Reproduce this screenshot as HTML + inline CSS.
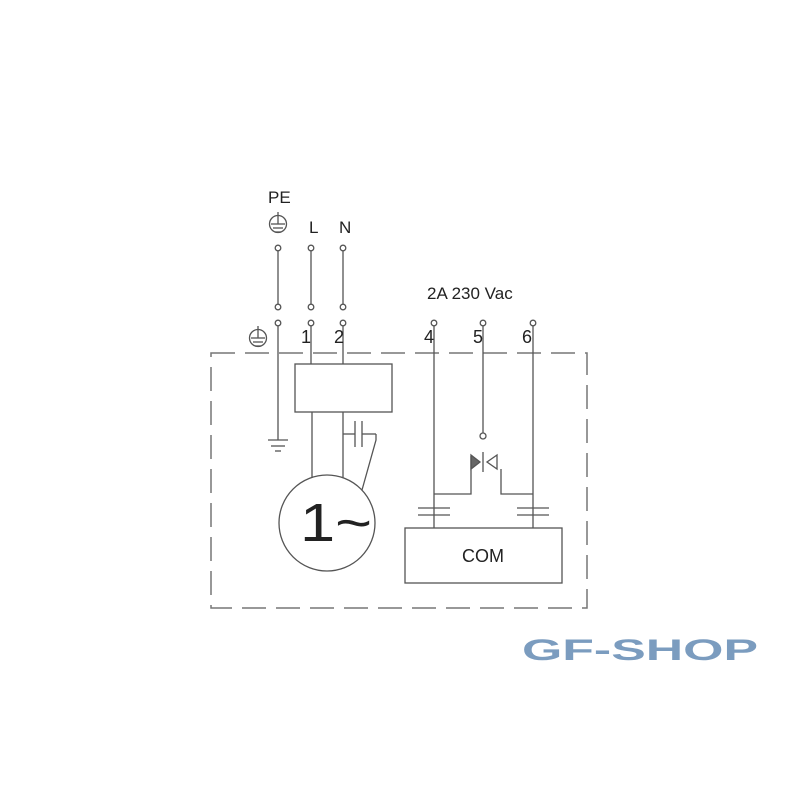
<!DOCTYPE html>
<html><head><style>
html,body{margin:0;padding:0;background:#fff;}
svg{display:block;}
text{font-family:"Liberation Sans",sans-serif;fill:#222;}
</style></head><body>
<svg width="800" height="800" viewBox="0 0 800 800" xmlns="http://www.w3.org/2000/svg">
<rect width="800" height="800" fill="#fff"/>
<g stroke="#555" stroke-width="1.3" fill="none">
<rect x="211" y="353" width="376" height="255" stroke="#777" stroke-width="1.5" stroke-dasharray="24,10"/>
<line x1="278" y1="251" x2="278" y2="304"/>
<line x1="311" y1="251" x2="311" y2="304"/>
<line x1="343" y1="251" x2="343" y2="304"/>
<circle cx="278" cy="248" r="2.8" fill="#fff"/>
<circle cx="311" cy="248" r="2.8" fill="#fff"/>
<circle cx="343" cy="248" r="2.8" fill="#fff"/>
<circle cx="278" cy="307" r="2.8" fill="#fff"/>
<circle cx="311" cy="307" r="2.8" fill="#fff"/>
<circle cx="343" cy="307" r="2.8" fill="#fff"/>
<circle cx="278" cy="323" r="2.8" fill="#fff"/>
<circle cx="311" cy="323" r="2.8" fill="#fff"/>
<circle cx="343" cy="323" r="2.8" fill="#fff"/>
<line x1="278" y1="326" x2="278" y2="440"/>
<line x1="268" y1="440" x2="288" y2="440"/>
<line x1="271" y1="446" x2="285" y2="446"/>
<line x1="275" y1="451" x2="281" y2="451"/>
<line x1="311" y1="326" x2="311" y2="364"/>
<line x1="343" y1="326" x2="343" y2="364"/>
<rect x="295" y="364" width="97" height="48"/>
<line x1="312" y1="412" x2="312" y2="478"/>
<line x1="343" y1="412" x2="343" y2="478"/>
<circle cx="327" cy="523" r="48"/>
<line x1="343" y1="434" x2="355" y2="434"/>
<line x1="355" y1="421" x2="355" y2="447"/>
<line x1="362" y1="421" x2="362" y2="447"/>
<line x1="362" y1="434" x2="376" y2="434"/>
<polyline points="376,434 376,440 362,490"/>
<circle cx="278" cy="224" r="8.5"/>
<line x1="278" y1="212" x2="278" y2="224"/>
<line x1="271" y1="224" x2="285" y2="224"/>
<line x1="273" y1="228" x2="283" y2="228"/>
<line x1="275" y1="232" x2="281" y2="232"/>
<circle cx="258" cy="338" r="8.5"/>
<line x1="258" y1="326" x2="258" y2="338"/>
<line x1="251" y1="338" x2="265" y2="338"/>
<line x1="253" y1="342" x2="263" y2="342"/>
<line x1="255" y1="346" x2="261" y2="346"/>
<circle cx="434" cy="323" r="2.8" fill="#fff"/>
<circle cx="483" cy="323" r="2.8" fill="#fff"/>
<circle cx="533" cy="323" r="2.8" fill="#fff"/>
<line x1="434" y1="326" x2="434" y2="528"/>
<line x1="533" y1="326" x2="533" y2="528"/>
<line x1="483" y1="326" x2="483" y2="433"/>
<circle cx="483" cy="436" r="3" fill="#fff"/>
<line x1="483" y1="452" x2="483" y2="472"/>
<polygon points="471,455 480,462 471,469" fill="#666"/>
<polygon points="497,455 487,462 497,469"/>
<polyline points="471,456 471,494 434,494"/>
<polyline points="501,469 501,494 533,494"/>
<line x1="418" y1="508" x2="450" y2="508"/>
<line x1="418" y1="515" x2="450" y2="515"/>
<line x1="517" y1="508" x2="549" y2="508"/>
<line x1="517" y1="515" x2="549" y2="515"/>
<rect x="405" y="528" width="157" height="55"/>
</g>
<text x="268" y="203" font-size="17">PE</text>
<text x="309" y="233" font-size="17">L</text>
<text x="339" y="233" font-size="17">N</text>
<text x="301" y="343" font-size="18">1</text>
<text x="334" y="343" font-size="18">2</text>
<text x="424" y="343" font-size="18">4</text>
<text x="473" y="343" font-size="18">5</text>
<text x="522" y="343" font-size="18">6</text>
<text x="427" y="299" font-size="17">2A 230 Vac</text>
<text x="300" y="541" font-size="54" textLength="72" lengthAdjust="spacingAndGlyphs">1~</text>
<text x="483" y="562" font-size="18" text-anchor="middle">COM</text>
<text x="522" y="660" font-size="30" font-weight="bold" textLength="236" lengthAdjust="spacingAndGlyphs" style="fill:#7b9cbf">GF-SHOP</text>
</svg>
</body></html>
